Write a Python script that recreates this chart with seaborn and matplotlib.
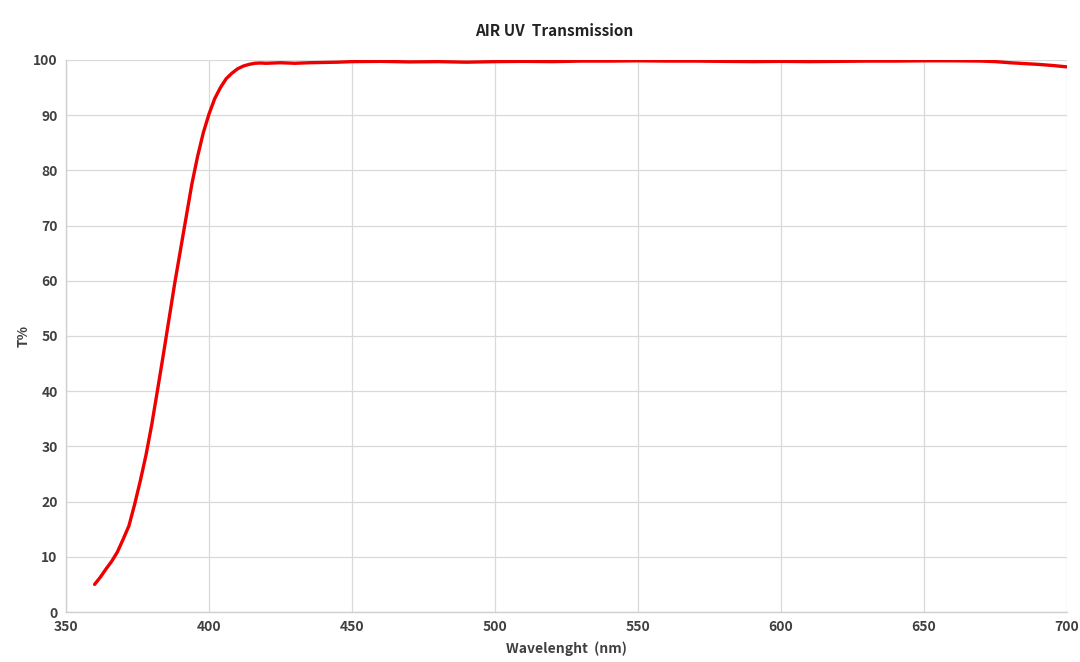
import numpy as np
import pandas as pd
import matplotlib.pyplot as plt
import seaborn as sns

plt.switch_backend("agg")

# Transmission curve
wavelength = [
    360, 362, 364, 366, 368, 370, 372, 374, 376, 378, 380, 382, 384, 386, 388,
    390, 392, 394, 396, 398, 400, 402, 404, 406, 408, 410, 412, 414, 416, 418,
    420, 425, 430, 435, 440, 445, 450, 460, 470, 480, 490, 500, 510, 520, 530,
    540, 550, 560, 570, 580, 590, 600, 610, 620, 630, 640, 650, 660, 670, 675,
    680, 685, 690, 695, 700,
]
transmission = [
    5.0, 6.3, 7.8, 9.2, 10.9, 13.2, 15.6, 19.5, 23.8, 28.5, 34.0, 40.2, 46.5,
    53.0, 59.5, 65.5, 71.5, 77.5, 82.5, 86.8, 90.2, 93.0, 95.0, 96.6, 97.6,
    98.4, 98.9, 99.2, 99.4, 99.45, 99.4, 99.5, 99.4, 99.5, 99.55, 99.6, 99.7,
    99.75, 99.65, 99.7, 99.6, 99.7, 99.75, 99.7, 99.8, 99.8, 99.85, 99.8,
    99.8, 99.75, 99.7, 99.75, 99.7, 99.75, 99.8, 99.8, 99.85, 99.85, 99.8,
    99.7, 99.5, 99.35, 99.2, 99.0, 98.75,
]

x_ticks = [350, 400, 450, 500, 550, 600, 650, 700]
y_ticks = [0, 10, 20, 30, 40, 50, 60, 70, 80, 90, 100]

df = pd.DataFrame({"wavelength": wavelength, "T": transmission})

sns.set_theme(style="whitegrid")
plt.rcParams["font.family"] = ["Noto Sans CJK SC", "DejaVu Sans"]

fig = plt.figure(figsize=(10.8, 6.62), dpi=100)
ax = fig.add_axes([0.0611, 0.0755, 0.9269, 0.8339])

sns.lineplot(data=df, x="wavelength", y="T", color="#ee0000", linewidth=2.4, ax=ax)

ax.set_xlim(350, 700)
ax.set_ylim(0, 100)
ax.set_xticks(x_ticks)
ax.set_yticks(y_ticks)
ax.grid(True, color="#d9d9d9", linewidth=0.9)
for side in ["top", "right"]:
    ax.spines[side].set_visible(False)
for side in ["left", "bottom"]:
    ax.spines[side].set_color("#d0d0d0")
    ax.spines[side].set_linewidth(1.0)

ax.tick_params(axis="both", length=0, pad=6, labelsize=10, labelcolor="#404040")
for lbl in ax.get_xticklabels() + ax.get_yticklabels():
    lbl.set_fontweight("bold")

ax.set_xlabel("Wavelenght  (nm)", fontsize=10, fontweight="bold", color="#404040", labelpad=5)
ax.set_ylabel("T%", fontsize=10, fontweight="bold", color="#404040", labelpad=2)
ax.set_title("AIR UV  Transmission", fontsize=11, fontweight="bold", color="#222222",
             pad=17, x=0.4875)

plt.savefig("out.png", dpi=100)
plt.close()
